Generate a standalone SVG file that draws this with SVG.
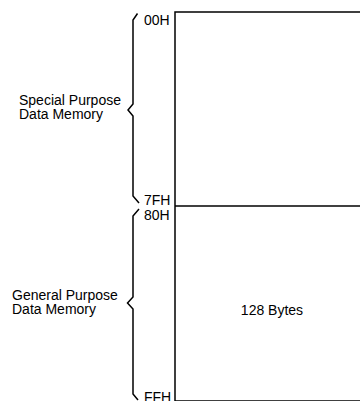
<svg xmlns="http://www.w3.org/2000/svg" width="360" height="401" viewBox="0 0 360 401">
<style>
.t{font-family:"Liberation Sans",Arial,sans-serif;font-size:14px;fill:#000}
.s{font-family:"Liberation Sans",Arial,sans-serif;font-size:14px;fill:#000}
.b{fill:none;stroke:#000;stroke-width:1.5;stroke-linejoin:miter}
</style>
<rect width="360" height="401" fill="#fff"/>
<g id="memory">
<rect x="175" y="12" width="200" height="389" fill="none" stroke="#000" stroke-width="1.5"/>
<line x1="175" y1="206" x2="375" y2="206" stroke="#000" stroke-width="1.5"/>
<text class="t" x="272" y="315" text-anchor="middle">128 Bytes</text>
</g>
<g id="special">
<path class="b" d="M137.5,13.5 L133,20 L133,104 L128,110 L133,116 L133,196 L139,203"/>
<text class="t" x="19" y="105">Special Purpose</text>
<text class="t" x="19" y="119">Data Memory</text>
<text class="s" x="144" y="25">00H</text>
<text class="s" x="144" y="205">7FH</text>
</g>
<g id="general">
<path class="b" d="M139,209 L133,216 L133,297 L127.5,303 L133,309 L133,394 L138,400"/>
<text class="t" x="12" y="300">General Purpose</text>
<text class="t" x="12" y="314">Data Memory</text>
<text class="s" x="144" y="220">80H</text>
<text class="s" x="144" y="402">FFH</text>
</g>
</svg>
